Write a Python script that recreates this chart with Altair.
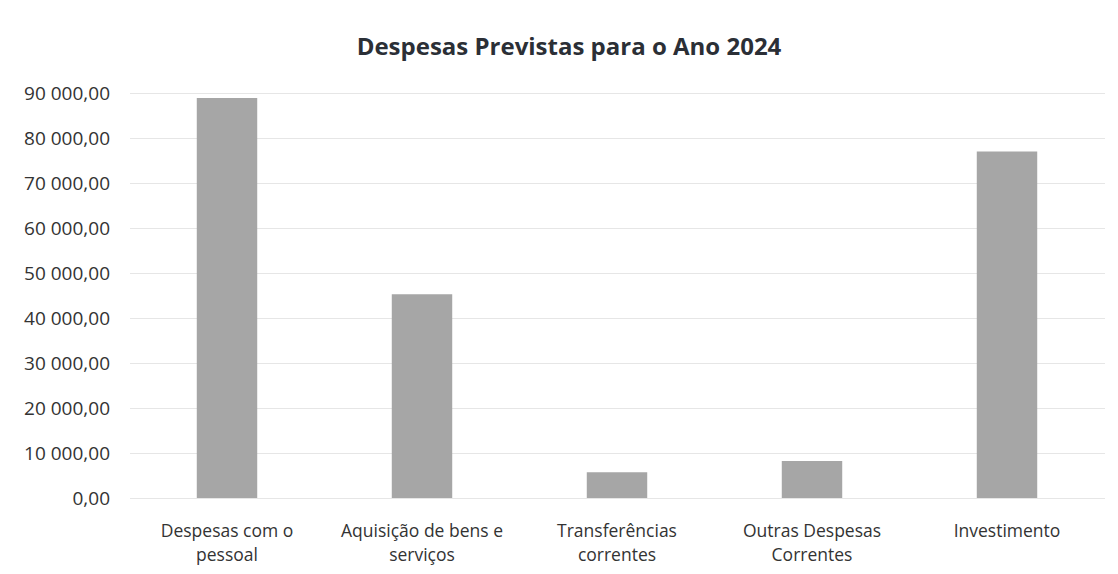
import altair as alt
import pandas as pd

categories = [
    "Despesas com o\npessoal",
    "Aquisição de bens e\nserviços",
    "Transferências\ncorrentes",
    "Outras Despesas\nCorrentes",
    "Investimento",
]
values = [88900, 45300, 5700, 8200, 77000]
y_ticks = [0, 10000, 20000, 30000, 40000, 50000, 60000, 70000, 80000, 90000]

df = pd.DataFrame({"categoria": categories, "valor": values})

label_expr = "replace(replace(format(datum.value, ',.2f'), ',', ' '), '.', ',')"

chart = (
    alt.Chart(df)
    .mark_bar(color="#a6a6a6")
    .encode(
        x=alt.X(
            "categoria:N",
            sort=categories,
            scale=alt.Scale(paddingInner=0.69, paddingOuter=0.345),
            axis=alt.Axis(
                title=None,
                labelAngle=0,
                labelExpr="split(datum.label, '\\n')",
                labelFont="Open Sans",
                labelFontSize=17.5,
                labelColor="#333333",
                labelLineHeight=24,
                labelPadding=24,
                ticks=False,
                domain=False,
                grid=False,
            ),
        ),
        y=alt.Y(
            "valor:Q",
            scale=alt.Scale(domain=[0, 90000], nice=False),
            axis=alt.Axis(
                title=None,
                values=y_ticks,
                labelExpr=label_expr,
                labelFont="Open Sans",
                labelFontSize=19,
                labelColor="#333333",
                labelPadding=20,
                ticks=False,
                domain=False,
                grid=True,
                gridColor="#e6e6e6",
                gridWidth=1,
            ),
        ),
    )
    .properties(
        width=975,
        height=405,
        background="white",
        autosize=alt.AutoSizeParams(type="none"),
        padding={"left": 121.5, "top": 85, "right": 4, "bottom": 68},
        title=alt.TitleParams(
            "Despesas Previstas para o Ano 2024",
            font="Open Sans",
            fontSize=24,
            fontWeight="bold",
            color="#2b2f36",
            anchor="middle",
            dx=-48,
            offset=24,
        ),
    )
    .configure_view(strokeWidth=0)
)

chart.save("out.html", embed_options={"renderer": "svg", "actions": False})
